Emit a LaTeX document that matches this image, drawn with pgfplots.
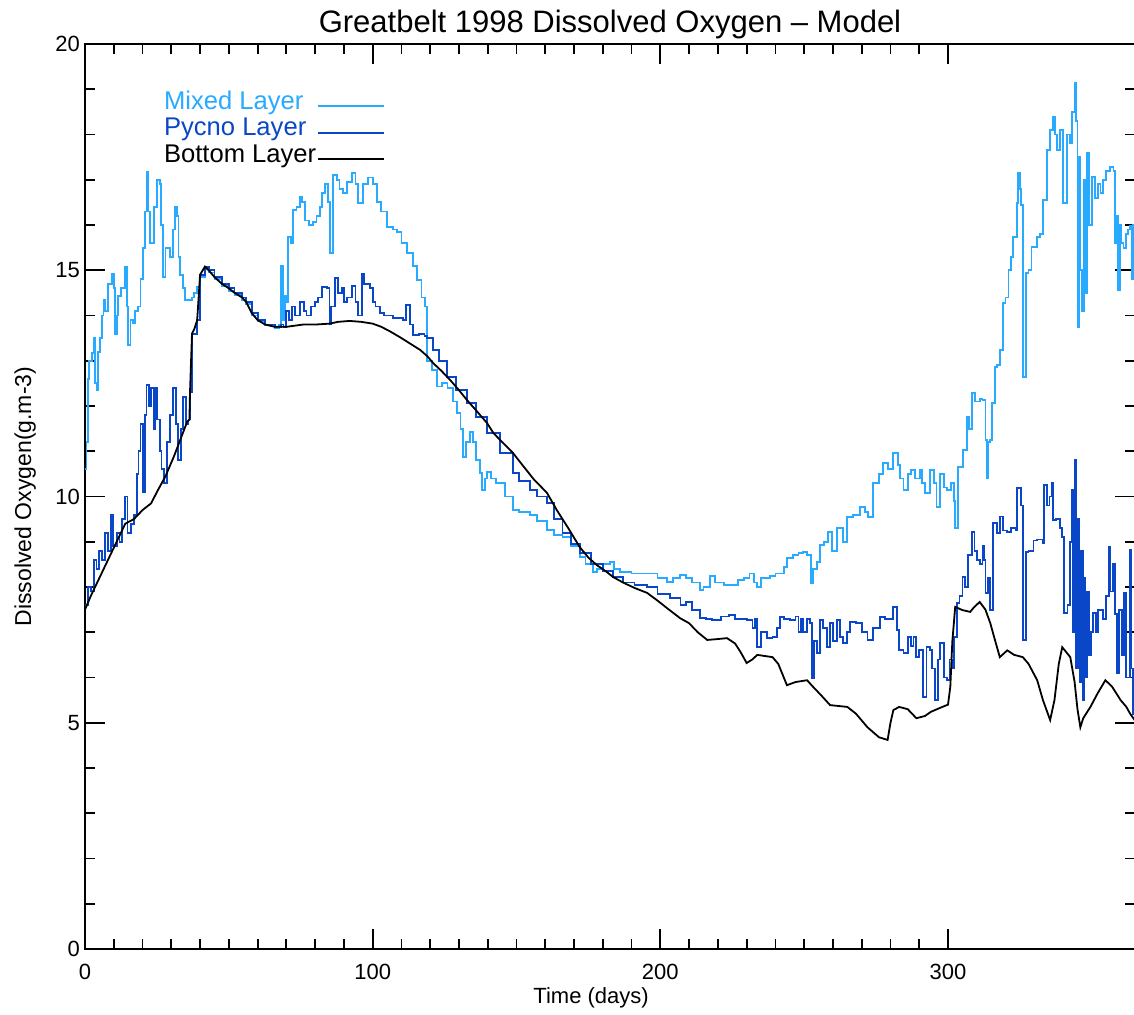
\documentclass[border=0pt]{standalone}
\usepackage{pgfplots}
\pgfplotsset{compat=1.18}
\usetikzlibrary{calc}
\usepackage{fontspec}
\setmainfont{Liberation Sans}
\definecolor{lightb}{RGB}{40,170,255}
\definecolor{darkb}{RGB}{10,70,200}
\begin{document}
\begin{tikzpicture}
\begin{axis}[
  name=ax,
  scale only axis,
  width=525pt, height=452.5pt,
  xmin=0, xmax=365, ymin=0, ymax=20,
  xtick={0,100,200,300}, minor x tick num=9,
  ytick={0,5,10,15,20}, minor y tick num=4,
  tick align=inside,
  major tick length=10pt, minor tick length=5pt,
  axis line style={line width=0.9pt},
  every tick/.style={black, line width=0.9pt},
  /pgf/number format/assume math mode=true,
  ticklabel style={font=\fontsize{11}{13}\selectfont},
  xticklabel style={yshift=-4pt},
  yticklabel style={xshift=1pt},
  title={Greatbelt 1998 Dissolved Oxygen -- Model},
  every axis title shift=0pt,
  title style={font=\fontsize{15.5}{18}\selectfont, at={(axis description cs:0.5,1)}, anchor=base, yshift=6pt, inner sep=0pt},
  xlabel={Time (days)},
  ylabel={Dissolved Oxygen(g.m-3)},
  xlabel style={font=\fontsize{11}{13}\selectfont, at={(axis description cs:0.482,-0.054)}, anchor=center},
  ylabel style={font=\fontsize{11.5}{13}\selectfont, at={(axis description cs:-0.057,0.5)}, anchor=center},
  legend plot pos=right,
  legend cell align=left,
  legend style={draw=none, fill=none, at={(axis cs:24.9,19.08)}, anchor=north west,
    font=\fontsize{12.8}{14}\selectfont,
    nodes={inner sep=0.5pt, text height=9pt, text depth=3.25pt}},
  legend image code/.code={\draw[#1] (0pt,-1.5pt) -- (33pt,-1.5pt);},
]
\addplot[lightb, line width=0.9pt, const plot] coordinates {
(0,10.6) (0.5,11.2) (1,12.6) (1.5,13.0) (2.3,13.17) (3,13.5) (3.5,12.5) (4,12.35) (4.5,13.2) (5.2,13.5)
(6,14.0) (6.4,14.34) (7,14.1) (8,14.7) (9.4,14.93) (10,14.6) (10.4,13.6) (11,14.0) (11.5,14.43) (12.5,14.6)
(14,15.08) (14.5,14.2) (15,13.35) (15.8,13.9) (16.7,13.83) (17.5,14.1) (18.5,14.2) (19.3,14.8) (20.2,15.5) (20.9,16.3)
(21.5,17.17) (22,16.3) (22.5,15.6) (23.3,15.6) (24,16.4) (25,17.0) (26,16.9) (26.5,16.0) (27.1,14.85) (28,15.5)
(28.5,15.5) (29.6,15.3) (30.5,15.9) (31.3,16.4) (32,16.2) (32.5,15.3) (33,14.9) (34,14.6) (34.8,14.34) (36,14.35)
(37.2,14.4) (38,14.5) (39,14.63) (40,14.85) (41.7,15.03) (43,14.95) (45,14.8) (47.6,14.65) (50,14.55) (52,14.45)
(54.6,14.35) (56,14.25) (58,14.0) (60,13.87) (62.6,13.78) (66,13.73) (67.5,13.8) (68.2,15.1) (68.8,13.9) (69.5,14.43)
(70,14.3) (70.6,15.74) (71.5,15.6) (72.4,16.33) (73.5,16.4) (74.8,16.62) (75.5,16.5) (76.5,16.1) (78,16.0) (79.3,16.07)
(80.5,16.2) (81.7,16.4) (82.5,16.7) (83.4,16.9) (84.5,16.5) (85.2,15.38) (86.2,17.1) (87.5,17.0) (88.5,16.8) (89.7,16.7)
(91,16.95) (92.8,17.15) (94,16.9) (95,16.48) (96.5,16.9) (98.4,17.05) (100,16.9) (101.5,16.5) (103,16.3) (105,15.96)
(107,15.9) (108.5,15.85) (110,15.6) (112,15.38) (114,15.1) (115.4,14.78) (117,14.4) (118.2,14.2) (119,13.0) (120.5,12.8)
(122.4,12.43) (124,12.5) (126,12.4) (128,12.1) (129.3,11.84) (130.5,11.5) (131.4,10.87) (132.5,11.2) (133.9,11.43) (135,11.2)
(136,10.8) (137.3,10.52) (138,10.14) (139,10.4) (139.8,10.55) (141,10.4) (143,10.3) (144.3,10.3) (146,10.0) (148.8,9.7)
(151,9.65) (154.7,9.6) (157,9.45) (160.6,9.26) (163,9.15) (166,9.1) (169,8.9) (172,8.66) (174,8.5) (176.7,8.33)
(178,8.4) (180,8.5) (182.5,8.55) (184,8.4) (186,8.33) (190,8.3) (195.4,8.3) (199,8.2) (202.4,8.11) (204.5,8.2)
(206.9,8.26) (209,8.2) (211,8.1) (213.8,7.93) (215,8.0) (217.3,8.24) (219,8.1) (222,8.05) (224,8.04) (227,8.15)
(229,8.2) (231,8.3) (232.5,8.1) (233.7,8.0) (235,8.2) (238,8.25) (240,8.3) (241.7,8.3) (243,8.45) (244,8.64)
(246,8.7) (248,8.75) (249.7,8.77) (251,8.7) (252.4,8.09) (253,8.4) (254.5,8.55) (255.6,8.93) (257,9.0) (258.3,9.22)
(259.7,8.8) (261.5,9.3) (263.6,9.0) (265,9.55) (267,9.6) (269.5,9.77) (271,9.65) (272.3,9.55) (274,10.3) (276,10.5)
(277.5,10.74) (279,10.6) (281,10.96) (282.5,10.7) (283.4,10.4) (284.5,10.14) (286,10.5) (287,10.59) (288.5,10.4) (290.3,10.59)
(291,10.3) (292,10.07) (293.8,10.59) (295,10.3) (296,9.77) (297.3,10.5) (298.5,10.2) (299.7,10.14) (301,10.3) (302,9.9)
(302.5,9.3) (303.5,10.65) (305.3,11.03) (306.7,11.75) (307.3,11.5) (308.4,12.28) (309.5,12.1) (311.2,12.15) (312,12.13) (313,11.25)
(313.6,10.4) (314,11.2) (314.7,11.25) (315.4,12.07) (316.4,12.86) (317,12.9) (318.1,13.24) (319.2,14.28) (320,14.4) (321,15.0)
(322,15.3) (322.7,15.74) (324,16.48) (324.4,17.15) (325,16.8) (325.4,16.45) (326,12.64) (327,14.94) (328,15.0) (329,15.51)
(331,15.74) (332,15.8) (333,16.55) (334.4,17.66) (335.5,18.1) (336.6,18.39) (337.3,18.0) (338,17.66) (339,18.1) (340,16.48)
(341.4,18.0) (342.3,17.8) (343.2,18.5) (344.2,19.13) (344.6,18.3) (345,13.75) (345.5,17.5) (346,15.0) (346.7,14.1) (347.2,17.0)
(347.8,14.5) (348.4,17.6) (349,16.0) (350,17.06) (351,16.6) (352,16.9) (353,16.7) (354,17.0) (355,17.2) (356.4,17.28)
(357.5,17.2) (358,15.6) (358.6,16.2) (359.2,14.56) (359.7,16.0) (360.3,15.6) (361,15.5) (362,15.8) (362.6,15.9) (363.3,15.97)
(363.8,14.8) (364.3,16.0) (365,15.6)
};
\addlegendentry{\textcolor{lightb}{Mixed Layer}}
\addplot[darkb, line width=0.9pt, const plot] coordinates {
(0,7.6) (1,8.0) (2,7.9) (3,8.6) (4,8.4) (5,8.8) (6,8.6) (7,9.2) (8,8.8) (9,9.6)
(9.8,8.9) (11,9.2) (12,9.0) (13,9.5) (14,10.0) (14.8,9.2) (16,9.4) (17,9.6) (18,10.5) (18.6,11.0)
(19.3,11.6) (20.1,10.1) (20.8,11.8) (21.4,12.46) (22.3,12.0) (23,12.4) (24,11.5) (24.3,12.4) (25,11.7) (26,11.0)
(26.6,10.6) (27.5,10.3) (28.5,11.2) (29.5,11.8) (30.7,12.4) (31.5,11.6) (32.4,10.8) (33.5,11.5) (34.2,12.2) (35,11.6)
(36,11.7) (36.5,12.3) (37.2,13.6) (39,13.9) (40,14.9) (41.7,15.08) (43,15.0) (45,14.85) (47.6,14.7) (50,14.6)
(52,14.5) (54.6,14.4) (56,14.3) (58,14.05) (60,13.9) (62.6,13.8) (66,13.75) (68,13.8) (69,13.75) (70,14.1)
(71,13.9) (72,14.2) (73,14.0) (74.8,14.3) (76,14.1) (77,14.0) (78.5,14.2) (80,14.3) (81,14.4) (82.3,14.63)
(84,14.6) (85,13.8) (85.5,14.2) (87,14.83) (88,14.5) (89.3,14.6) (90,14.3) (91,14.4) (92.8,14.65) (94,14.3)
(95,14.0) (96.2,14.93) (97,14.7) (99,14.6) (100,14.3) (101,14.2) (102.6,14.05) (104,14.0) (107,13.94) (109,13.95)
(110.6,13.9) (111.6,14.23) (113,13.8) (114,13.57) (116,13.6) (118,13.55) (119,13.5) (121,13.24) (123,13.0) (125.9,12.64)
(129,12.35) (132.8,12.07) (136,11.75) (139.8,11.4) (144.3,10.96) (148.8,10.52) (151,10.35) (154.7,10.14) (157,10.0) (160.6,9.85)
(163,9.5) (166,9.19) (169,8.95) (172,8.75) (176,8.5) (180,8.35) (183.6,8.22) (187,8.1) (191,8.05) (195.4,8.0)
(199,7.85) (203.4,7.75) (207,7.6) (209,7.67) (211,7.5) (213.8,7.31) (216,7.3) (218,7.27) (221,7.35) (224,7.38)
(226,7.3) (228,7.3) (230,7.27) (232,7.09) (233,7.3) (233.7,6.67) (235,7.0) (237,6.87) (239,6.9) (240.5,7.1)
(241.7,7.34) (243,7.3) (245,7.27) (247,7.35) (248,7.0) (249,7.3) (249.7,7.0) (251,7.3) (252,7.2) (252.8,5.99)
(253.5,6.8) (254.5,6.54) (255.6,7.27) (256.5,7.1) (258,6.67) (259,7.2) (260,6.8) (261.5,7.27) (262.5,6.9) (263.6,6.76)
(265,7.0) (266,7.23) (268,7.2) (270,7.0) (272,6.83) (274,7.1) (276.4,7.34) (278,7.3) (281,7.56) (282.3,7.05)
(283,6.6) (284.5,6.54) (286,6.9) (287,6.7) (288,6.9) (289,6.45) (290,6.6) (291.4,5.57) (292.5,6.67) (293.8,6.6)
(294.5,6.2) (295.5,5.5) (296.5,6.4) (297.3,6.76) (298.5,6.0) (299.7,5.94) (300.5,6.4) (301.5,6.2) (302,6.9) (303,7.64)
(304,7.8) (305,8.22) (306,8.0) (307,8.7) (308.4,9.22) (309.2,8.8) (310,8.6) (311,8.5) (312,8.9) (312.5,8.6)
(313,7.87) (314,8.2) (314.7,7.49) (315.7,9.41) (317,9.2) (318,9.56) (319,9.25) (320.6,9.22) (322,9.3) (323.5,9.25)
(324,10.19) (325.4,9.8) (326,6.83) (327,8.77) (328,8.8) (329.7,9.03) (331,9.05) (333,8.97) (333.5,10.25) (334.5,9.8)
(335.3,10.0) (336,10.3) (336.5,9.48) (337.5,9.5) (339,9.3) (339.7,9.1) (340.2,7.42) (341.5,7.6) (342.5,9.0) (343,10.14)
(343.5,7.0) (344.2,10.8) (344.6,6.2) (345.2,9.5) (345.7,5.9) (346.3,8.8) (346.8,5.5) (347.3,8.2) (347.8,6.0) (348.4,7.9)
(349,6.5) (349.7,7.0) (350.5,7.42) (351.3,7.0) (352,7.5) (353,7.5) (354,7.3) (355,7.8) (356,8.88) (356.5,7.9)
(357.3,8.5) (358,7.4) (358.8,6.1) (359.5,7.5) (360.5,6.5) (361.3,7.87) (362,6.0) (363.3,8.82) (363.8,6.2) (364.4,5.2)
(365,5.3)
};
\addlegendentry{\textcolor{darkb}{Pycno Layer}}
\addplot[black, line width=0.9pt] coordinates {
(0,7.5) (2,7.8) (5,8.2) (8,8.6) (11,9.0) (14,9.4) (17,9.5) (20,9.7) (23,9.85) (25,10.1)
(28,10.45) (31,10.9) (34,11.4) (35.5,11.65) (36.3,11.7) (36.5,12.3) (37.2,13.6) (38,13.7) (39,13.9) (40,14.9)
(41.7,15.08) (43,15.0) (45,14.85) (47.6,14.7) (50,14.6) (52,14.5) (54.6,14.4) (56,14.3) (58,14.05) (60,13.9)
(62.6,13.8) (66,13.75) (70,13.75) (75.8,13.8) (80,13.8) (85,13.82) (88,13.86) (92,13.88) (96,13.86) (100,13.82)
(103,13.75) (106,13.65) (109.5,13.52) (113,13.38) (116.5,13.24) (119,13.1) (121,12.95) (124,12.77) (127,12.57) (130,12.35)
(132.8,12.13) (136,11.9) (139.8,11.62) (142,11.4) (144.3,11.25) (148.8,10.96) (152,10.7) (156,10.38) (160.6,10.08) (164,9.7)
(168,9.3) (172,8.88) (175,8.65) (178,8.48) (181,8.35) (183.6,8.22) (187,8.1) (191,7.98) (195.4,7.87) (199,7.7)
(203,7.5) (206.9,7.31) (210,7.2) (213,7.0) (216.3,6.83) (220,6.85) (223.2,6.87) (226,6.75) (228,6.55) (230,6.32)
(232,6.4) (233.7,6.5) (239,6.45) (241,6.3) (244,5.83) (247,5.9) (251,5.94) (253,5.8) (256,5.6) (259,5.39)
(265,5.35) (268,5.2) (272,4.9) (276,4.68) (279,4.62) (280,5.0) (281,5.28) (283,5.35) (286,5.3) (289,5.1)
(292,5.15) (294,5.24) (298,5.35) (300,5.4) (300.8,5.8) (301.5,6.8) (302.5,7.56) (305,7.49) (307.7,7.45) (309,7.55)
(311,7.67) (313,7.5) (314.7,7.2) (316,6.9) (318,6.45) (320.6,6.6) (323,6.5) (326,6.45) (328,6.3) (331,5.94)
(333,5.5) (335.5,5.06) (337,5.5) (338.5,6.3) (339.7,6.67) (342.5,6.45) (344,5.9) (345,5.3) (346,4.9) (347,5.1)
(349.5,5.35) (352,5.65) (354.7,5.94) (357,5.8) (360,5.5) (362,5.35) (363.3,5.2) (365,5.05)
};
\addlegendentry{Bottom Layer}
\end{axis}
\pgfresetboundingbox
\path ($(ax.south west)+(-42.5pt,-32.5pt)$) rectangle ($(ax.north east)+(-0.5pt,22pt)$);
\end{tikzpicture}
\end{document}
